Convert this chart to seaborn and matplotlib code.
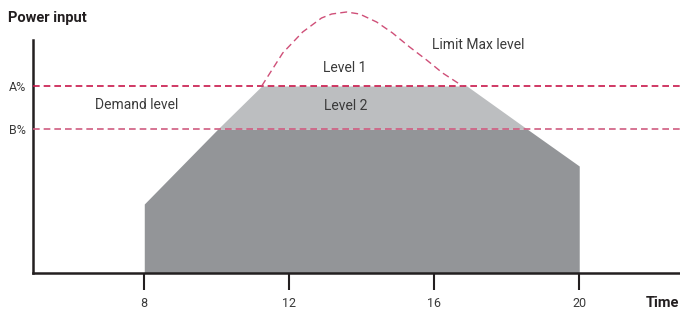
import numpy as np
import pandas as pd
import matplotlib
matplotlib.use("Agg")
import matplotlib.pyplot as plt
import seaborn as sns

# ---- data ----
level_a = 187
level_b = 144
demand_x = [8, 10.03, 11.24, 16.9, 18.56, 20]
demand_y = [69, 144, 187, 187, 144, 107]
limit_x = [11.24, 11.82, 12.37, 12.89, 13.17, 13.58, 13.94, 14.41, 14.85, 15.32, 15.79, 16.23, 16.78]
limit_y = [187, 220, 241, 255, 259, 261, 259, 251, 240, 226, 213, 200, 187]
xticks = [8, 12, 16, 20]
ytick_labels = ["A%", "B%"]

sns.set_theme(style="white")
plt.rcParams['font.family'] = ['Roboto', 'DejaVu Sans']

fig = plt.figure(figsize=(6.8, 3.11), dpi=100)
ax = fig.add_axes([33/680, 38/311, 1 - 33/680, 273/311])
ax.set_xlim(4.93, 22.78)
ax.set_ylim(0, 273)

dx = np.array(demand_x)
dy = np.array(demand_y)
dark = np.minimum(dy, level_b)
light = np.minimum(dy, level_a)
ax.fill_between(dx, 0, dark, color="#939598", lw=0)
ax.fill_between(dx, level_b, light, where=dy >= level_b, color="#bcbec0", lw=0)

ax.axhline(level_a, color="#c8174a", lw=1.2, dashes=(4, 2.4), zorder=3)
ax.axhline(level_b, color="#cf5c80", lw=1.2, dashes=(4, 2.4), zorder=3)

df = pd.DataFrame({"t": limit_x, "p": limit_y})
sns.lineplot(data=df, x="t", y="p", ax=ax, color="#cf4f78", lw=1.0,
             dashes=False, zorder=3)
ax.lines[-1].set_dashes((5, 3))

ax.set_xlabel("")
ax.set_ylabel("")
ax.set_xticks(xticks)
ax.set_xticklabels([str(t) for t in xticks])
ax.set_yticks([level_a, level_b])
ax.set_yticklabels(ytick_labels)

spine_col = "#231f20"
for s in ["top", "right"]:
    ax.spines[s].set_visible(False)
ax.spines["left"].set_bounds(0, 233)
ax.spines["left"].set_color(spine_col)
ax.spines["left"].set_linewidth(1.8)
ax.spines["bottom"].set_color(spine_col)
ax.spines["bottom"].set_linewidth(1.8)
ax.tick_params(axis="x", bottom=True, direction="out", length=12, width=1.5,
               color=spine_col, pad=5, labelsize=9, labelcolor="#3a3a3a")
ax.tick_params(axis="y", left=False, length=0, pad=5, labelsize=9, labelcolor="#3a3a3a")

txt = "#3a3a3a"
ax.text(7.8, 168, "Demand level", ha="center", va="center", fontsize=10, color=txt)
ax.text(13.53, 205, "Level 1", ha="center", va="center", fontsize=10, color=txt)
ax.text(13.56, 167, "Level 2", ha="center", va="center", fontsize=10, color=txt)
ax.text(17.2, 228, "Limit Max level", ha="center", va="center", fontsize=10, color=txt)

fig.text(8/680, 1 - 18/311, "Power input", ha="left", va="center", fontsize=10.5,
         fontweight="bold", color="#231f20")
fig.text(679/680, 1 - 303/311, "Time", ha="right", va="center", fontsize=10.5,
         fontweight="bold", color="#231f20")

fig.savefig("out.png", dpi=100)
